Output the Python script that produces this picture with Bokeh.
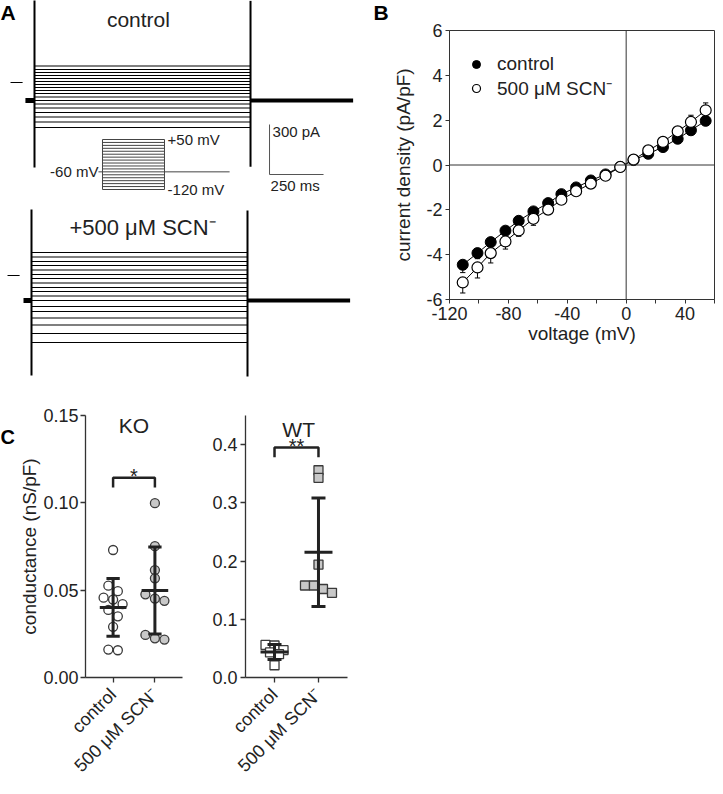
import numpy as np
from bokeh.plotting import figure
from bokeh.models import Range1d, Label, Span, FixedTicker, Legend, LegendItem
from bokeh.layouts import column, row
from bokeh.embed import file_html
from bokeh.resources import INLINE

FONT = "Liberation Sans"
TXT = "#222222"
AX = "#333333"

# ---------------- Panel A : whole-cell current traces ----------------
step_mV = [50, 40, 30, 20, 10, 0, -10, -20, -30, -40, -50, -60, -70, -80, -90, -100, -110, -120]
ctrl_level_pA = [99, 78, 60, 42, 24, 6, -12, -30, -48, -66, -87, -108, -129, -153, -180, -207, -237, -270]
scn_level_pA = [138, 111, 84, 60, 33, 6, -18, -45, -72, -96, -123, -150, -186, -216, -255, -297, -348, -402]
ctrl_hold_pA = -108
scn_hold_pA = -150
ctrl_spike_on_pA = [-510, 520]
ctrl_spike_off_pA = [-505, 490]
scn_spike_on_pA = [-600, 396]
scn_spike_off_pA = [-606, 390]
step_ms = [0, 1000]
ctrl_pre_ms = [-42, 0]
scn_pre_ms = [-37, 0]
post_ms = [1000, 1475]
zero_mark_ms = [-111, -55]
hold_mV = -60
protocol_pre_ms = [-65, 0]
protocol_post_ms = [1000, 2050]
scale_ms = 250
scale_pA = 300

# ---------------- Panel B : I-V relation ----------------
volt_mV = [-111, -101, -92, -82, -73, -63, -53, -44, -34, -24, -14, -4, 5, 15, 25, 35, 44, 54]
ctrl_density = [-4.45, -3.93, -3.44, -2.93, -2.49, -2.07, -1.70, -1.30, -1.00, -0.69, -0.42, -0.08,
                0.22, 0.50, 0.80, 1.17, 1.55, 1.97]
ctrl_sem = [0.35, 0.25, 0.20, 0.18, 0.15, 0.12, 0.10, 0.10, 0.08, 0.06, 0.05, 0.04,
            0.04, 0.06, 0.08, 0.10, 0.15, 0.20]
scn_density = [-5.24, -4.57, -3.93, -3.41, -2.92, -2.40, -1.99, -1.55, -1.17, -0.83, -0.48, -0.09,
               0.24, 0.65, 1.03, 1.50, 1.92, 2.44]
scn_sem = [0.47, 0.47, 0.44, 0.34, 0.26, 0.29, 0.12, 0.10, 0.08, 0.06, 0.05, 0.04,
           0.04, 0.06, 0.08, 0.10, 0.30, 0.33]
B_xticks = [-120, -100, -80, -60, -40, -20, 0, 20, 40, 60]
B_xlabels = ["-120", "", "-80", "", "-40", "", "0", "", "40", ""]
B_yticks = [-6, -4, -2, 0, 2, 4, 6]
B_ylabels = ["-6", "-4", "-2", "0", "2", "4", "6"]

# ---------------- Panel C : conductance ----------------
groups = ["control", "500 \u03bcM SCN\u207b"]
ko_ctrl = [0.073, 0.0526, 0.0494, 0.0457, 0.0446, 0.042, 0.0387, 0.035, 0.029, 0.0156, 0.016]
ko_scn = [0.0998, 0.0752, 0.0615, 0.0568, 0.0476, 0.0452, 0.0439, 0.0244, 0.0224, 0.0217]
wt_ctrl = [0.056, 0.055, 0.047, 0.043, 0.040, 0.021]
wt_scn = [0.356, 0.343, 0.194, 0.158, 0.158, 0.152, 0.1455]
ko_yticks = [0.0, 0.05, 0.10, 0.15]
ko_ylabels = ["0.00", "0.05", "0.10", "0.15"]
wt_yticks = [0.0, 0.1, 0.2, 0.3, 0.4]
wt_ylabels = ["0.0", "0.1", "0.2", "0.3", "0.4"]
ko_sig = {"y": 0.1144, "drop": 0.0056, "text": "*"}
wt_sig = {"y": 0.395, "drop": 0.0167, "text": "**"}


def blank(w, h, xr, yr):
    p = figure(width=w, height=h, x_range=xr, y_range=yr, output_backend="svg",
               toolbar_location=None, min_border=0, x_axis_location=None, y_axis_location=None)
    p.grid.visible = False
    p.outline_line_color = None
    return p


def label(p, x, y, text, size, align="left", baseline="middle", bold=False, color=TXT, **kw):
    p.add_layout(Label(x=x, y=y, text=text, text_font=FONT, text_font_size=f"{size}px",
                       text_align=align, text_baseline=baseline, text_color=color,
                       text_font_style="bold" if bold else "normal", **kw))


def traces(p, levels, hold, pre, spk_on, spk_off):
    p.multi_line(xs=[step_ms] * len(levels), ys=[[v, v] for v in levels], line_color="black", line_width=1.2)
    p.segment(x0=[step_ms[0], step_ms[1]], x1=[step_ms[0], step_ms[1]],
              y0=[spk_on[0], spk_off[0]], y1=[spk_on[1], spk_off[1]], line_color="black", line_width=2)
    p.line(pre, [hold, hold], line_color="black", line_width=5)
    p.line(post_ms, [hold, hold], line_color="black", line_width=4)
    p.line(zero_mark_ms, [0, 0], line_color="black", line_width=1)


# --- A top (also carries the "B" panel letter)
pa_top = blank(390, 197, Range1d(-157.4, 1648), Range1d(-690, 492))
traces(pa_top, ctrl_level_pA, ctrl_hold_pA, ctrl_pre_ms, ctrl_spike_on_pA, ctrl_spike_off_pA)
sb_t0, sb_i0 = 1088, -552
pa_top.line([sb_t0, sb_t0, sb_t0 + scale_ms], [sb_i0 + scale_pA, sb_i0, sb_i0], line_color="#555555", line_width=1)
label(pa_top, 1102, -294, "300 pA", 15)
label(pa_top, 1093, -615, "250 ms", 15)
label(pa_top, 481, 378, "control", 21, align="center", baseline="alphabetic")
label(pa_top, -157, 492, "A", 21, baseline="top", bold=True, color="black")
label(pa_top, 1569, 492, "B", 21, baseline="top", bold=True, color="black")
# voltage protocol inset
pa_top.extra_x_ranges = {"pt": Range1d(-1645, 4645)}
pa_top.extra_y_ranges = {"mv": Range1d(-147.2, 522.6)}
pa_top.multi_line(xs=[step_ms] * len(step_mV), ys=[[v, v] for v in step_mV], line_color="#444444",
                  line_width=1, x_range_name="pt", y_range_name="mv")
pa_top.segment(x0=step_ms, x1=step_ms, y0=[min(step_mV)] * 2, y1=[max(step_mV)] * 2, line_color="#444444",
               line_width=1, x_range_name="pt", y_range_name="mv")
pa_top.multi_line(xs=[protocol_pre_ms, protocol_post_ms], ys=[[hold_mV] * 2, [hold_mV] * 2],
                  line_color="#444444", line_width=1, x_range_name="pt", y_range_name="mv")
label(pa_top, protocol_pre_ms[0], hold_mV, "-60 mV", 15, align="right", x_range_name="pt", y_range_name="mv")
label(pa_top, 1050, max(step_mV), "+50 mV", 15, x_range_name="pt", y_range_name="mv")
label(pa_top, 1050, min(step_mV), "-120 mV", 15, x_range_name="pt", y_range_name="mv")

# --- A bottom
pa_bot = blank(390, 187, Range1d(-143.5, 1662), Range1d(-654, 468))
traces(pa_bot, scn_level_pA, scn_hold_pA, scn_pre_ms, scn_spike_on_pA, scn_spike_off_pA)
label(pa_bot, 514, 288, "+500 \u03bcM SCN\u207b", 22, align="center", baseline="alphabetic")

# --- B
pB = figure(width=325, height=384, x_range=Range1d(-120, 60), y_range=Range1d(-6, 6),
            output_backend="svg", toolbar_location=None, min_border_left=56, min_border_right=1,
            min_border_top=30, min_border_bottom=85)
pB.grid.visible = False
pB.outline_line_color = AX
pB.outline_line_width = 1
pB.add_layout(Span(location=0, dimension="height", line_color=AX, line_width=1))
pB.add_layout(Span(location=0, dimension="width", line_color=AX, line_width=1))
for ax in (pB.xaxis[0], pB.yaxis[0]):
    ax.axis_line_color = AX
    ax.major_tick_line_color = AX
    ax.major_tick_out = 4
    ax.major_tick_in = 0
    ax.minor_tick_line_color = None
    ax.major_label_text_font = FONT
    ax.major_label_text_font_size = "18px"
    ax.major_label_text_color = TXT
    ax.axis_label_text_font = FONT
    ax.axis_label_text_font_size = "19px"
    ax.axis_label_text_font_style = "normal"
    ax.axis_label_text_color = TXT
    ax.major_label_standoff = 3
pB.xaxis.ticker = FixedTicker(ticks=B_xticks)
pB.xaxis.major_label_overrides = {t: s for t, s in zip(B_xticks, B_xlabels)}
pB.yaxis.ticker = FixedTicker(ticks=B_yticks)
pB.yaxis.major_label_overrides = {t: s for t, s in zip(B_yticks, B_ylabels)}
pB.xaxis.axis_label = "voltage (mV)"
pB.yaxis.axis_label = "current density (pA/pF)"
pB.xaxis.axis_label_standoff = 0
pB.yaxis.axis_label_standoff = 9

v = np.array(volt_mV, dtype=float)
cap = 1.8
for dens, sem in ((ctrl_density, ctrl_sem), (scn_density, scn_sem)):
    d = np.array(dens)
    e = np.array(sem)
    end = np.where(d < 0, d - e, d + e)
    pB.segment(x0=v, x1=v, y0=d, y1=end, line_color="black", line_width=1)
    pB.segment(x0=v - cap, x1=v + cap, y0=end, y1=end, line_color="black", line_width=1)
pB.line(v, ctrl_density, line_color="black", line_width=1)
pB.line(v, scn_density, line_color="black", line_width=1)
r_ctrl = pB.scatter(v, ctrl_density, marker="circle", size=11, fill_color="black", line_color="black")
r_scn = pB.scatter(v, scn_density, marker="circle", size=11, fill_color="white", line_color="black",
                   line_width=1.2)
leg = Legend(items=[LegendItem(label=groups[0], renderers=[r_ctrl]),
                    LegendItem(label=groups[1], renderers=[r_scn])],
             location=(17, 198), background_fill_alpha=0, border_line_color=None, padding=0, margin=0,
             spacing=0, label_text_font=FONT, label_text_font_size="19px", label_text_color=TXT,
             glyph_width=20, glyph_height=22, label_height=22, label_standoff=11)
pB.add_layout(leg)


# --- C
def swarm(vals, px_per_unit, px_per_x, bin_px=7.6, step_px=10):
    vals = np.asarray(vals, dtype=float)
    order = np.argsort(-vals, kind="stable")
    offs = np.zeros(len(vals))
    grp = []
    for i in order:
        if grp and (vals[grp[-1][0]] - vals[i]) * px_per_unit < bin_px:
            grp[-1].append(i)
        else:
            grp.append([i])
    for g in grp:
        n = len(g)
        for k, i in enumerate(g):
            offs[i] = (k - (n - 1) / 2) * step_px / px_per_x
    return offs


def cond_fig(width, mbl, mbr, ymax, yticks, ylabels, ctrl, scn, marker, px_per_unit, step_px,
             sig, ylabel=None):
    p = figure(width=width, height=402, x_range=Range1d(0.34, 2.66), y_range=Range1d(0, ymax),
               output_backend="svg", toolbar_location=None, min_border_left=mbl, min_border_right=mbr,
               min_border_top=31, min_border_bottom=101)
    p.grid.visible = False
    p.outline_line_color = None
    for ax in (p.xaxis[0], p.yaxis[0]):
        ax.axis_line_color = AX
        ax.axis_line_width = 1.3
        ax.major_tick_line_color = AX
        ax.major_tick_line_width = 1.3
        ax.major_tick_out = 5
        ax.major_tick_in = 0
        ax.minor_tick_line_color = None
        ax.major_label_text_font = FONT
        ax.major_label_text_font_size = "18px"
        ax.major_label_text_color = TXT
        ax.axis_label_text_font = FONT
        ax.axis_label_text_font_size = "19px"
        ax.axis_label_text_font_style = "normal"
        ax.axis_label_text_color = TXT
        ax.major_label_standoff = 3
    p.xaxis.ticker = FixedTicker(ticks=[1, 2])
    p.xaxis.major_label_overrides = {1: groups[0], 2: groups[1]}
    p.xaxis.major_label_orientation = np.pi / 4
    p.xaxis.major_label_standoff = 9
    p.yaxis.ticker = FixedTicker(ticks=yticks)
    p.yaxis.major_label_overrides = {t: s for t, s in zip(yticks, ylabels)}
    if ylabel:
        p.yaxis.major_label_standoff = 2
        p.yaxis.axis_label = ylabel
        p.yaxis.axis_label_standoff = 0
    frame_w = width - mbl - mbr
    px_per_x = frame_w / 2.32
    for xi, vals, fill in ((1, ctrl, "white"), (2, scn, "#c8c8c8")):
        vals = np.asarray(vals, dtype=float)
        xs = xi + swarm(vals, px_per_unit, px_per_x, step_px=step_px)
        p.scatter(xs, vals, marker=marker, size=9, fill_color=fill, line_color="#3a3a3a", line_width=1.3)
        m = vals.mean()
        sd = vals.std(ddof=1)
        hw, cw = 14 / px_per_x, 7 / px_per_x
        p.segment(x0=[xi, xi - cw, xi - cw, xi - hw], x1=[xi, xi + cw, xi + cw, xi + hw],
                  y0=[m - sd, m - sd, m + sd, m], y1=[m + sd, m - sd, m + sd, m],
                  line_color="#222222", line_width=3)
    p.line([1, 1, 2, 2], [sig["y"] - sig["drop"], sig["y"], sig["y"], sig["y"] - sig["drop"]],
           line_color="#222222", line_width=2.5)
    p.add_layout(Label(x=1.5, y=sig["y"], y_offset=-9, text=sig["text"], text_font=FONT,
                       text_font_size="20px", text_align="center", text_baseline="bottom",
                       text_color=TXT))
    return p


pC_letter = blank(16, 402, Range1d(0, 1), Range1d(0, 1))
label(pC_letter, 0, 0.918, "C", 20, bold=True, color="black")
pko = cond_fig(176, 64, 10, 0.15, ko_yticks, ko_ylabels, ko_ctrl, ko_scn, "circle", 1800, 10,
               ko_sig, ylabel="conductance (nS/pF)")
label(pko, 1.5, 0.1444, "KO", 21, align="center", baseline="alphabetic")
pwt = cond_fig(160, 53, 5, 0.45, wt_yticks, wt_ylabels, wt_ctrl, wt_scn, "square", 600, 9, wt_sig)
label(pwt, 1.55, 0.4267, "WT", 21, align="center", baseline="alphabetic")

layout = column(row(column(pa_top, pa_bot), pB), row(pC_letter, pko, pwt))
open("out.html", "w", encoding="utf-8").write(file_html(layout, INLINE))
